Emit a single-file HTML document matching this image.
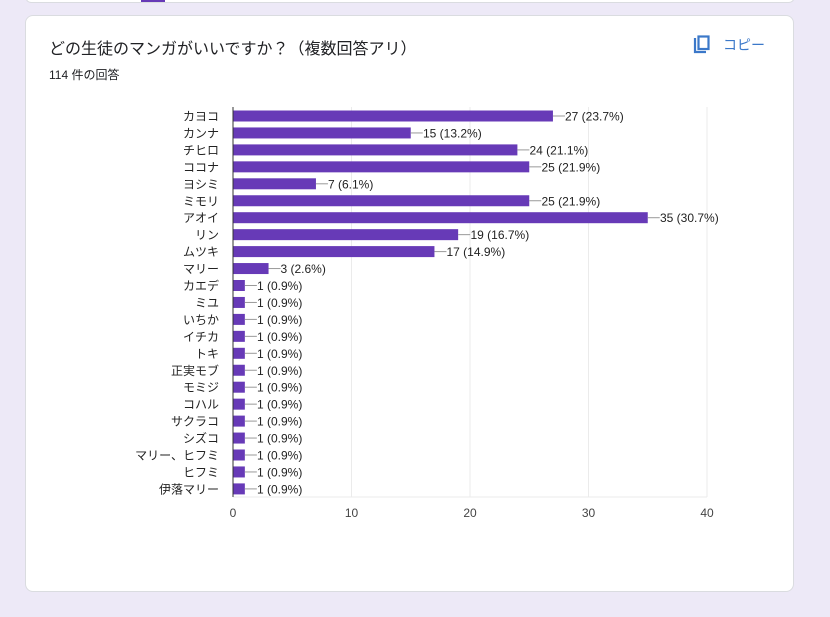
<!DOCTYPE html>
<html><head><meta charset="utf-8"><style>
body{margin:0;width:830px;height:617px;background:#ede9f7;position:relative;overflow:hidden;font-family:"Liberation Sans","Noto Sans CJK JP",sans-serif;}
.top{position:absolute;left:25px;top:-10px;width:768px;height:11px;background:#fff;border:1px solid #dadce0;border-radius:8px;}
.tab{position:absolute;left:141px;top:0;width:24px;height:2px;background:#673ab7;}
.card{position:absolute;left:25px;top:15px;width:767px;height:575px;background:#fff;border:1px solid #dadce0;border-radius:8px;}
.t{position:absolute;left:49px;top:35px;font-size:16px;color:#202124;}
.s{position:absolute;left:49px;top:66px;font-size:12px;color:#202124;}
.c{position:absolute;left:723px;top:35px;font-size:14px;color:#3b78c9;}
</style></head><body>
<div class="top"></div><div class="tab"></div>
<div class="card"></div>
<div class="t">どの生徒のマンガがいいですか？（複数回答アリ）</div>
<div class="s">114 件の回答</div>
<svg style="position:absolute;left:692px;top:35px" width="20" height="20" viewBox="0 0 20 20"><path d="M3 3v14h11" fill="none" stroke="#3b78c9" stroke-width="2.2"/><rect x="6.5" y="1.5" width="10" height="12.5" fill="none" stroke="#3b78c9" stroke-width="2.2"/></svg>
<div class="c">コピー</div>
<svg style="position:absolute;left:0;top:0" width="830" height="617" font-family="Liberation Sans, Noto Sans CJK JP, sans-serif" font-size="12">
<g stroke="#ebebeb"><line x1="351.5" y1="107" x2="351.5" y2="497"/><line x1="470" y1="107" x2="470" y2="497"/><line x1="588.5" y1="107" x2="588.5" y2="497"/><line x1="707" y1="107" x2="707" y2="497"/><line x1="233" y1="497" x2="707" y2="497"/></g>
<g fill="#222">
<g transform="translate(0,116)"><rect x="233" y="-5.5" width="319.95" height="11" fill="#673ab7"/><line x1="552.95" y1="0" x2="564.95" y2="0" stroke="#999"/><text x="565" y="4.5">27 (23.7%)</text><text x="219" y="4.5" text-anchor="end">カヨコ</text></g>
<g transform="translate(0,132.95)"><rect x="233" y="-5.5" width="177.75" height="11" fill="#673ab7"/><line x1="410.75" y1="0" x2="422.75" y2="0" stroke="#999"/><text x="423" y="4.5">15 (13.2%)</text><text x="219" y="4.5" text-anchor="end">カンナ</text></g>
<g transform="translate(0,149.9)"><rect x="233" y="-5.5" width="284.4" height="11" fill="#673ab7"/><line x1="517.4" y1="0" x2="529.4" y2="0" stroke="#999"/><text x="529.5" y="4.5">24 (21.1%)</text><text x="219" y="4.5" text-anchor="end">チヒロ</text></g>
<g transform="translate(0,166.85)"><rect x="233" y="-5.5" width="296.25" height="11" fill="#673ab7"/><line x1="529.25" y1="0" x2="541.25" y2="0" stroke="#999"/><text x="541.5" y="4.5">25 (21.9%)</text><text x="219" y="4.5" text-anchor="end">ココナ</text></g>
<g transform="translate(0,183.8)"><rect x="233" y="-5.5" width="82.95" height="11" fill="#673ab7"/><line x1="315.95" y1="0" x2="327.95" y2="0" stroke="#999"/><text x="328" y="4.5">7 (6.1%)</text><text x="219" y="4.5" text-anchor="end">ヨシミ</text></g>
<g transform="translate(0,200.75)"><rect x="233" y="-5.5" width="296.25" height="11" fill="#673ab7"/><line x1="529.25" y1="0" x2="541.25" y2="0" stroke="#999"/><text x="541.5" y="4.5">25 (21.9%)</text><text x="219" y="4.5" text-anchor="end">ミモリ</text></g>
<g transform="translate(0,217.7)"><rect x="233" y="-5.5" width="414.75" height="11" fill="#673ab7"/><line x1="647.75" y1="0" x2="659.75" y2="0" stroke="#999"/><text x="660" y="4.5">35 (30.7%)</text><text x="219" y="4.5" text-anchor="end">アオイ</text></g>
<g transform="translate(0,234.65)"><rect x="233" y="-5.5" width="225.15" height="11" fill="#673ab7"/><line x1="458.15" y1="0" x2="470.15" y2="0" stroke="#999"/><text x="470.5" y="4.5">19 (16.7%)</text><text x="219" y="4.5" text-anchor="end">リン</text></g>
<g transform="translate(0,251.6)"><rect x="233" y="-5.5" width="201.45" height="11" fill="#673ab7"/><line x1="434.45" y1="0" x2="446.45" y2="0" stroke="#999"/><text x="446.5" y="4.5">17 (14.9%)</text><text x="219" y="4.5" text-anchor="end">ムツキ</text></g>
<g transform="translate(0,268.55)"><rect x="233" y="-5.5" width="35.55" height="11" fill="#673ab7"/><line x1="268.55" y1="0" x2="280.55" y2="0" stroke="#999"/><text x="280.5" y="4.5">3 (2.6%)</text><text x="219" y="4.5" text-anchor="end">マリー</text></g>
<g transform="translate(0,285.5)"><rect x="233" y="-5.5" width="11.85" height="11" fill="#673ab7"/><line x1="244.85" y1="0" x2="256.85" y2="0" stroke="#999"/><text x="257" y="4.5">1 (0.9%)</text><text x="219" y="4.5" text-anchor="end">カエデ</text></g>
<g transform="translate(0,302.45)"><rect x="233" y="-5.5" width="11.85" height="11" fill="#673ab7"/><line x1="244.85" y1="0" x2="256.85" y2="0" stroke="#999"/><text x="257" y="4.5">1 (0.9%)</text><text x="219" y="4.5" text-anchor="end">ミユ</text></g>
<g transform="translate(0,319.4)"><rect x="233" y="-5.5" width="11.85" height="11" fill="#673ab7"/><line x1="244.85" y1="0" x2="256.85" y2="0" stroke="#999"/><text x="257" y="4.5">1 (0.9%)</text><text x="219" y="4.5" text-anchor="end">いちか</text></g>
<g transform="translate(0,336.35)"><rect x="233" y="-5.5" width="11.85" height="11" fill="#673ab7"/><line x1="244.85" y1="0" x2="256.85" y2="0" stroke="#999"/><text x="257" y="4.5">1 (0.9%)</text><text x="219" y="4.5" text-anchor="end">イチカ</text></g>
<g transform="translate(0,353.3)"><rect x="233" y="-5.5" width="11.85" height="11" fill="#673ab7"/><line x1="244.85" y1="0" x2="256.85" y2="0" stroke="#999"/><text x="257" y="4.5">1 (0.9%)</text><text x="219" y="4.5" text-anchor="end">トキ</text></g>
<g transform="translate(0,370.25)"><rect x="233" y="-5.5" width="11.85" height="11" fill="#673ab7"/><line x1="244.85" y1="0" x2="256.85" y2="0" stroke="#999"/><text x="257" y="4.5">1 (0.9%)</text><text x="219" y="4.5" text-anchor="end">正実モブ</text></g>
<g transform="translate(0,387.2)"><rect x="233" y="-5.5" width="11.85" height="11" fill="#673ab7"/><line x1="244.85" y1="0" x2="256.85" y2="0" stroke="#999"/><text x="257" y="4.5">1 (0.9%)</text><text x="219" y="4.5" text-anchor="end">モミジ</text></g>
<g transform="translate(0,404.15)"><rect x="233" y="-5.5" width="11.85" height="11" fill="#673ab7"/><line x1="244.85" y1="0" x2="256.85" y2="0" stroke="#999"/><text x="257" y="4.5">1 (0.9%)</text><text x="219" y="4.5" text-anchor="end">コハル</text></g>
<g transform="translate(0,421.1)"><rect x="233" y="-5.5" width="11.85" height="11" fill="#673ab7"/><line x1="244.85" y1="0" x2="256.85" y2="0" stroke="#999"/><text x="257" y="4.5">1 (0.9%)</text><text x="219" y="4.5" text-anchor="end">サクラコ</text></g>
<g transform="translate(0,438.05)"><rect x="233" y="-5.5" width="11.85" height="11" fill="#673ab7"/><line x1="244.85" y1="0" x2="256.85" y2="0" stroke="#999"/><text x="257" y="4.5">1 (0.9%)</text><text x="219" y="4.5" text-anchor="end">シズコ</text></g>
<g transform="translate(0,455)"><rect x="233" y="-5.5" width="11.85" height="11" fill="#673ab7"/><line x1="244.85" y1="0" x2="256.85" y2="0" stroke="#999"/><text x="257" y="4.5">1 (0.9%)</text><text x="219" y="4.5" text-anchor="end">マリー、ヒフミ</text></g>
<g transform="translate(0,471.95)"><rect x="233" y="-5.5" width="11.85" height="11" fill="#673ab7"/><line x1="244.85" y1="0" x2="256.85" y2="0" stroke="#999"/><text x="257" y="4.5">1 (0.9%)</text><text x="219" y="4.5" text-anchor="end">ヒフミ</text></g>
<g transform="translate(0,488.9)"><rect x="233" y="-5.5" width="11.85" height="11" fill="#673ab7"/><line x1="244.85" y1="0" x2="256.85" y2="0" stroke="#999"/><text x="257" y="4.5">1 (0.9%)</text><text x="219" y="4.5" text-anchor="end">伊落マリー</text></g>
</g>
<line x1="233" y1="107" x2="233" y2="497" stroke="#333"/>
<g fill="#444" text-anchor="middle"><text x="233" y="517">0</text><text x="351.5" y="517">10</text><text x="470" y="517">20</text><text x="588.5" y="517">30</text><text x="707" y="517">40</text></g>
</svg>
</body></html>
